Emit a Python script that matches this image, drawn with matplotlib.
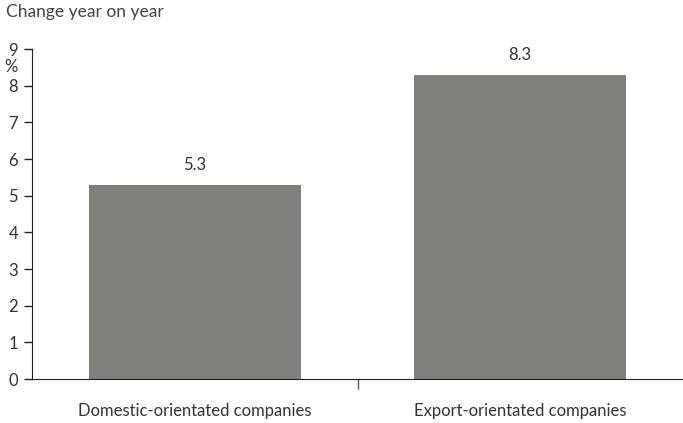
import matplotlib
matplotlib.use('Agg')
import matplotlib.pyplot as plt
import numpy

categories = ['Domestic-orientated companies', 'Export-orientated companies']
values = [5.3, 8.3]
yticks = [0, 1, 2, 3, 4, 5, 6, 7, 8, 9]

plt.rcParams['font.family'] = ['Lato', 'DejaVu Sans']
text_col = '#333333'

fig = plt.figure(figsize=(6.83, 4.23), dpi=100)
ax = fig.add_axes([32/683, 44/423, 651/683, 330/423])

x = numpy.arange(len(categories))
ax.bar(x, values, width=0.65, color='#7f807b')
for xi, v in zip(x, values):
    ax.text(xi, v + 0.33, f'{v:.1f}', ha='center', va='bottom', fontsize=12, color=text_col)

ax.set_xlim(-0.5, 1.5)
ax.set_ylim(0, 9)
ax.set_yticks(yticks)
ax.set_yticklabels([str(t) for t in yticks], fontsize=12, color=text_col)
ax.set_xticks([0.5])
ax.set_xticklabels([''])
ax.xaxis.set_minor_locator(matplotlib.ticker.FixedLocator(x))
ax.xaxis.set_minor_formatter(matplotlib.ticker.FixedFormatter(categories))
ax.tick_params(axis='x', which='minor', length=0, pad=17, labelsize=12, labelcolor=text_col)
ax.tick_params(axis='x', which='major', length=7, width=1, color='#555555', direction='out')
ax.tick_params(axis='y', length=6, width=1, color='#222222', pad=4)

for s in ['top', 'right']:
    ax.spines[s].set_visible(False)
ax.spines['left'].set_color('#222222')
ax.spines['bottom'].set_color('#222222')

fig.text(6/683, 1 - 12/423, 'Change year on year', fontsize=12.5, color='#444444', va='center', ha='left')
fig.text(4/683, 1 - 67/423, '%', fontsize=12, color=text_col, va='center', ha='left')

fig.savefig('out.png', dpi=100)
